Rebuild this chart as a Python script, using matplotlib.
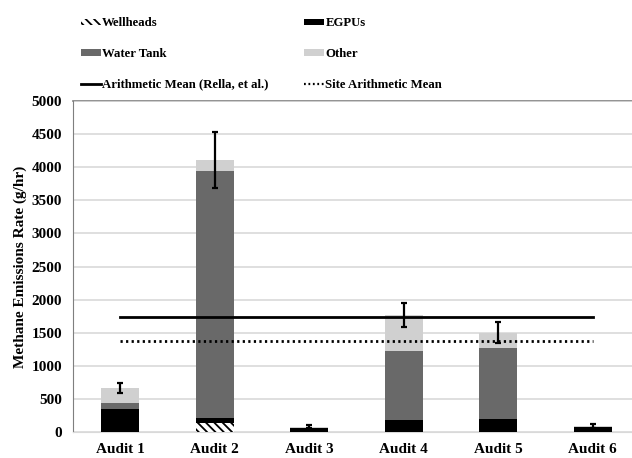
import numpy as np
import matplotlib.pyplot as plt
from matplotlib.lines import Line2D
from matplotlib.patches import Patch

audits = ['Audit 1', 'Audit 2', 'Audit 3', 'Audit 4', 'Audit 5', 'Audit 6']
wellheads = [0, 140, 0, 0, 0, 0]
egpus = [352, 70, 65, 180, 196, 80]
water_tank = [85, 3733, 0, 1044, 1077, 0]
other = [228, 166, 15, 543, 227, 10]
err = [82, 417, 20, 180, 156, 25]
rella_mean = 1742
site_mean = 1375

plt.rcParams['font.family'] = ['Liberation Serif', 'DejaVu Serif']
plt.rcParams['font.weight'] = 'bold'
plt.rcParams['hatch.linewidth'] = 1.3

fig = plt.figure(figsize=(6.32, 4.58), dpi=100)
ax = fig.add_axes([73 / 632, 26 / 458, 567 / 632, 331 / 458])

x = np.arange(len(audits))
w = 0.4
wh = np.array(wellheads)
eg = np.array(egpus)
wt = np.array(water_tank)
ot = np.array(other)
dotted = (0, (0.8, 1.2))

ax.bar(x, wh, w, color='white', edgecolor='black', hatch='\\\\\\\\', linewidth=0, zorder=3)
ax.bar(x, eg, w, bottom=wh, color='black', zorder=3)
ax.bar(x, wt, w, bottom=wh + eg, color='#696969', zorder=3)
ax.bar(x, ot, w, bottom=wh + eg + wt, color='#d0d0d0', zorder=3)
total = wh + eg + wt + ot
ax.errorbar(x, total, yerr=err, fmt='none', ecolor='black', elinewidth=1.6,
            capsize=2.5, capthick=1.6, zorder=4)

ax.plot([0, 5], [rella_mean, rella_mean], color='black', lw=2, zorder=5)
ax.plot([0, 5], [site_mean, site_mean], color='black', lw=2, ls=dotted, zorder=5)

ax.set_xlim(-0.5, 5.5)
ax.set_ylim(0, 5000)
ax.set_yticks(np.arange(0, 5001, 500))
ax.set_xticks(x)
ax.set_xticklabels(audits, fontsize=11, fontweight='bold')
ax.tick_params(axis='y', labelsize=11, length=0, pad=8)
ax.tick_params(axis='x', length=0, pad=8)
ax.grid(axis='y', color='#d9d9d9', lw=1.2, zorder=0)
for s in ['top', 'right']:
    ax.spines[s].set_visible(False)
ax.spines['left'].set_color('#7f7f7f')
ax.spines['bottom'].set_color('#d9d9d9')
ax.axhline(5000, color='#7f7f7f', lw=1.2, clip_on=False, zorder=1)
ax.set_ylabel('Methane Emissions Rate (g/hr)', fontsize=11, fontweight='bold', labelpad=3)

handles = [
    Patch(facecolor='white', edgecolor='black', hatch='\\\\\\\\', linewidth=0),
    Patch(facecolor='#696969'),
    Line2D([], [], color='black', lw=2),
    Patch(facecolor='black'),
    Patch(facecolor='#d0d0d0'),
    Line2D([], [], color='black', lw=1.6, ls=dotted),
]
labels = ['Wellheads', 'Water Tank', 'Arithmetic Mean (Rella, et al.)',
          'EGPUs', 'Other', 'Site Arithmetic Mean']
fig.legend(handles, labels, ncol=2, loc='upper left', bbox_to_anchor=(69 / 632, 1 - 6 / 458),
           frameon=False, handlelength=1.6, handleheight=0.45,
           handletextpad=0.1, labelspacing=1.45, columnspacing=2.75,
           prop={'weight': 'bold', 'size': 9.2})

fig.savefig('out.png', dpi=100)
